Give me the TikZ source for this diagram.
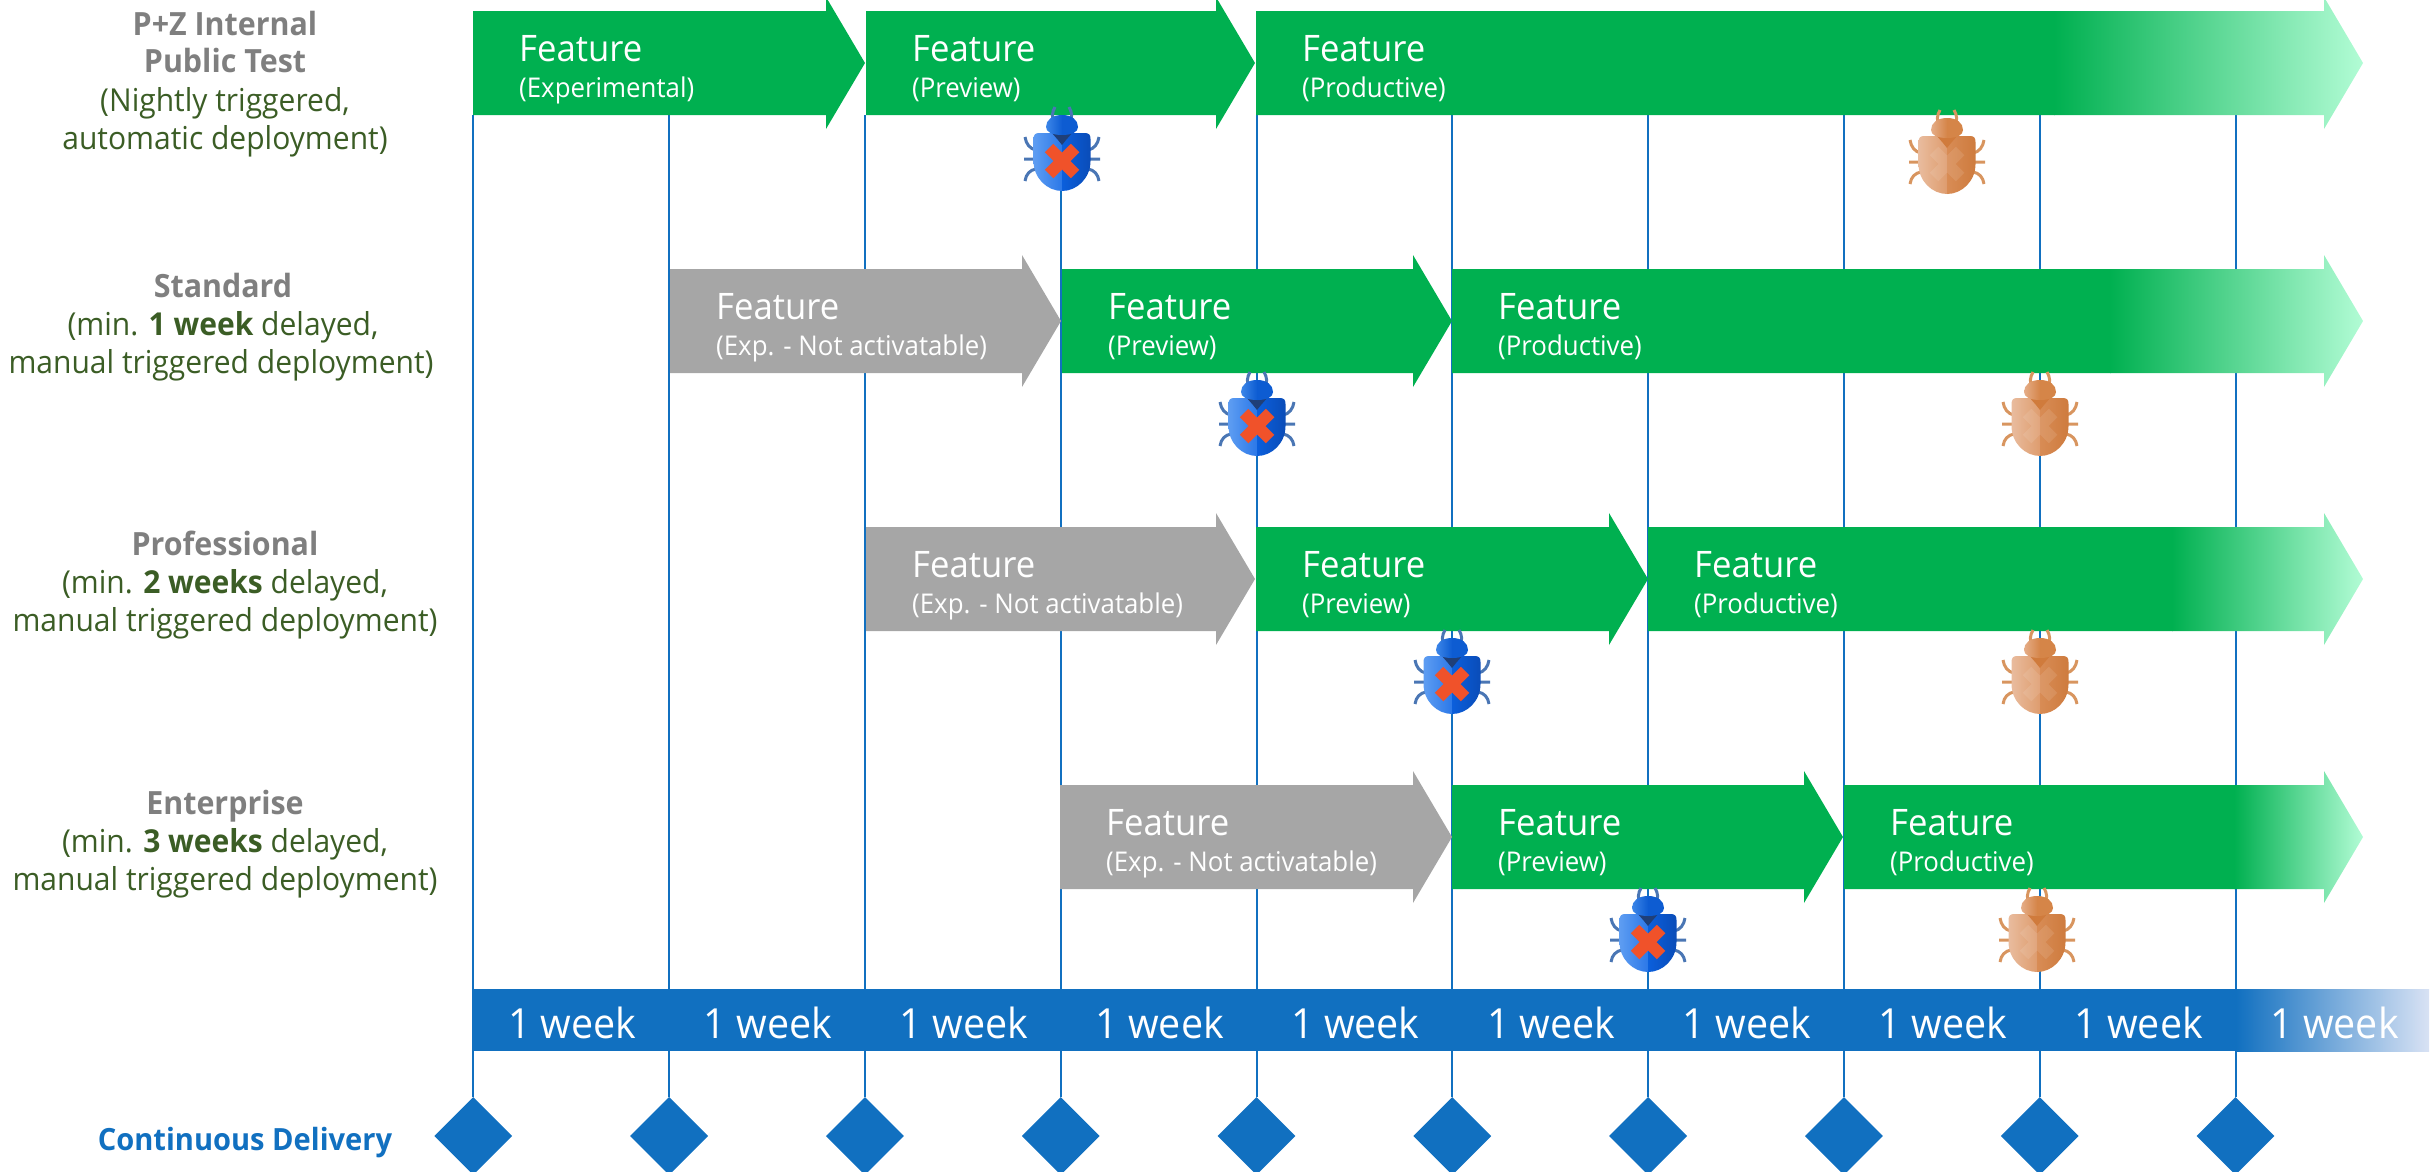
\documentclass[tikz,border=0pt]{standalone}
\usepackage{fontspec}
\setmainfont{Open Sans}[FakeStretch=0.95]
\usetikzlibrary{shapes.geometric}
\definecolor{barblue}{HTML}{1170C0}
\definecolor{barend}{HTML}{D8E2F4}
\definecolor{fgreen}{HTML}{00B050}
\definecolor{fend}{HTML}{B2FCD5}
\definecolor{fgrey}{HTML}{A6A6A6}
\definecolor{headgrey}{HTML}{7F7F7F}
\definecolor{subgreen}{HTML}{3B5D25}
\newcommand{\fs}[1]{\fontsize{#1}{#1}\selectfont}
\tikzset{
  weekline/.style={draw=barblue,line width=2pt},
  ms/.style={diamond,fill=barblue,inner sep=0pt,minimum width=78pt,minimum height=78pt},
  wk/.style={anchor=base,text=white,inner sep=0pt,font=\fs{41.5}},
  ft/.style={anchor=base west,text=white,inner sep=0pt,font=\fs{36.5}},
  fs2/.style={anchor=base west,text=white,inner sep=0pt,font=\fs{27.2}},
  hd/.style={anchor=base,text=headgrey,inner sep=0pt,font=\fs{32}\bfseries},
  sb/.style={anchor=base,text=subgreen,inner sep=0pt,font=\fs{31.6}},
}
% x0, tip x, centre y, colour, id, subtitle
\newcommand{\featarrow}[6]{%
  \fill[#4] (#1,#3-52) -- ({#2-39},#3-52) -- ({#2-39},#3-66) -- (#2,#3) -- ({#2-39},#3+66) -- ({#2-39},#3+52) -- (#1,#3+52) -- cycle;
  \node[ft] (f#5) at ({#1+46},#3-2) {Feature};
  \node[fs2] (s#5) at ({#1+46},#3+34) {(#6)};
}
% x0, gradient start, centre y, id, subtitle
\newcommand{\fadearrow}[5]{%
  \begin{scope}
    \clip (#1,#3-52) -- (2324,#3-52) -- (2324,#3-66) -- (2363,#3) -- (2324,#3+66) -- (2324,#3+52) -- (#1,#3+52) -- cycle;
    \fill[fgreen] (#1,#3-70) rectangle (#2+1,#3+70);
    \shade[left color=fgreen,right color=fend,shading angle=90] (#2,#3-70) rectangle (2363,#3+70);
  \end{scope}
  \node[ft] (f#4) at ({#1+46},#3-2) {Feature};
  \node[fs2] (s#4) at ({#1+46},#3+34) {(#5)};
}
% x, top y, left a, left b, right a, right b, head a, head b, leg
\newcommand{\bugicon}[9]{%
  \begin{scope}[shift={(#1,#2)}]
    \draw[#9,line width=3pt]
      (-7,17) .. controls (-11,11) and (-10,5) .. (-7,0)
      (7,17) .. controls (11,11) and (10,5) .. (7,0)
      (-26,43) .. controls (-32,42) and (-36,37) .. (-37,30)
      (26,43) .. controls (32,42) and (36,37) .. (37,30)
      (-27,52) -- (-38,52) (27,52) -- (38,52)
      (-26,62) .. controls (-32,63) and (-36,67) .. (-37,74)
      (26,62) .. controls (32,63) and (36,67) .. (37,74);
    \shade[left color=#3,right color=#4] (0.2,26) -- (-23,26) .. controls (-27,26) and (-28.5,28) .. (-28.5,32) -- (-28.5,54) .. controls (-28.5,71) and (-15,84) .. (0.2,84) -- cycle;
    \shade[left color=#5,right color=#6] (0,26) -- (23,26) .. controls (27,26) and (28.5,28) .. (28.5,32) -- (28.5,54) .. controls (28.5,71) and (15,84) .. (0,84) -- cycle;
    \fill[bugcollar] (-11,25) -- (11,25) -- (4,33) -- (0,38) -- (-4,33) -- cycle;
    \shade[left color=#7,right color=#8] (0.2,8) .. controls (-10,8) and (-16,13) .. (-16,20) .. controls (-16,25) and (-10,28) .. (0.2,28) -- cycle;
    \fill[#8] (0,8) .. controls (10,8) and (16,13) .. (16,20) .. controls (16,25) and (10,28) .. (0,28) -- cycle;
    \draw[bugcross,bugcrossop,line width=12pt] (-13,41) -- (13,67) (13,41) -- (-13,67);
  \end{scope}
}
\newcommand{\bluebug}[2]{%
  \colorlet{bugcollar}{bclr}\tikzset{bugcrossop/.style={}}\colorlet{bugcross}{bx}%
  \bugicon{#1}{#2}{b1}{b2}{b3}{b4}{b5}{b6}{bleg}}
\newcommand{\orangebug}[2]{%
  \colorlet{bugcollar}{oclr}\tikzset{bugcrossop/.style={opacity=.1}}\colorlet{bugcross}{white}%
  \bugicon{#1}{#2}{o1}{o2}{o3}{o4}{o5}{o6}{oleg}}
\definecolor{b1}{HTML}{5E9DF2}\definecolor{b2}{HTML}{2B78E8}
\definecolor{b3}{HTML}{0B5FDC}\definecolor{b4}{HTML}{0A4CB8}
\definecolor{b5}{HTML}{3C86E8}\definecolor{b6}{HTML}{0D5CD2}
\definecolor{bleg}{HTML}{4A76B4}\definecolor{bclr}{HTML}{1F3F78}\definecolor{bx}{HTML}{F0522A}
\definecolor{o1}{HTML}{E9BC9E}\definecolor{o2}{HTML}{DE9C6E}
\definecolor{o3}{HTML}{D88C55}\definecolor{o4}{HTML}{CE7B3E}
\definecolor{o5}{HTML}{E5AD88}\definecolor{o6}{HTML}{D58548}
\definecolor{oleg}{HTML}{D8955F}\definecolor{oclr}{HTML}{D07B3C}
\begin{document}
\begin{tikzpicture}[x=1pt,y=-1pt]
\useasboundingbox (0,0) rectangle (2433,1171);
% week bar
\foreach \i in {0,...,9}{
  \pgfmathsetmacro{\xx}{473.3+195.8*\i}
  \coordinate (t\i) at (\xx,115);
  \node[ms] (d\i) at (\xx,1136) {};
  \draw[weekline] (t\i) -- (d\i.north);
}
\fill[barblue] (473,989) rectangle (2237,1051);
\shade[left color=barblue,right color=barend] (2236,989) rectangle (2429,1051);
\foreach \i in {0,...,9}{
  \pgfmathsetmacro{\xx}{473.3+99+195.8*\i}
  \node[wk] (w\i) at (\xx,1038) {1 week};
}
% row 1
\featarrow{473}{865}{63}{fgreen}{a}{Experimental}
\featarrow{866}{1255}{63}{fgreen}{b}{Preview}
\fadearrow{1256}{2054}{63}{c}{Productive}
% row 2
\featarrow{670}{1061}{321}{fgrey}{d}{Exp. - Not activatable}
\featarrow{1062}{1452}{321}{fgreen}{e}{Preview}
\fadearrow{1452}{2110}{321}{g}{Productive}
% row 3
\featarrow{866}{1255}{579}{fgrey}{h}{Exp. - Not activatable}
\featarrow{1256}{1648}{579}{fgreen}{i}{Preview}
\fadearrow{1648}{2172}{579}{j}{Productive}
% row 4
\featarrow{1060}{1452}{837}{fgrey}{k}{Exp. - Not activatable}
\featarrow{1452}{1843}{837}{fgreen}{l}{Preview}
\fadearrow{1844}{2234}{837}{m}{Productive}
% left labels
\node[hd] (l1) at (225,35) {P+Z Internal};
\node[hd] (l2) at (225,72) {Public Test};
\node[sb] (l3) at (225,111) {(Nightly triggered,};
\node[sb] (l4) at (225,149) {automatic deployment)};
\node[hd] (l5) at (223,297) {Standard};
\node[sb] (l6) at (223,335) {(min. \textbf{1 week} delayed,};
\node[sb] (l7) at (221,373) {manual triggered deployment)};
\node[hd] (l8) at (225,555) {Professional};
\node[sb] (l9) at (225,593) {(min. \textbf{2 weeks} delayed,};
\node[sb] (l10) at (225,631) {manual triggered deployment)};
\node[hd] (l11) at (225,814) {Enterprise};
\node[sb] (l12) at (225,852) {(min. \textbf{3 weeks} delayed,};
\node[sb] (l13) at (225,890) {manual triggered deployment)};
\node[anchor=base,text=barblue,inner sep=0pt,font=\fs{30.6}\bfseries] (cd) at (245,1150) {Continuous Delivery};
% bugs
\bluebug{1062}{107}
\bluebug{1257}{372}
\bluebug{1452}{630}
\bluebug{1648}{888}
\orangebug{1947}{110}
\orangebug{2040}{372}
\orangebug{2040}{630}
\orangebug{2037}{888}
\end{tikzpicture}
\end{document}
